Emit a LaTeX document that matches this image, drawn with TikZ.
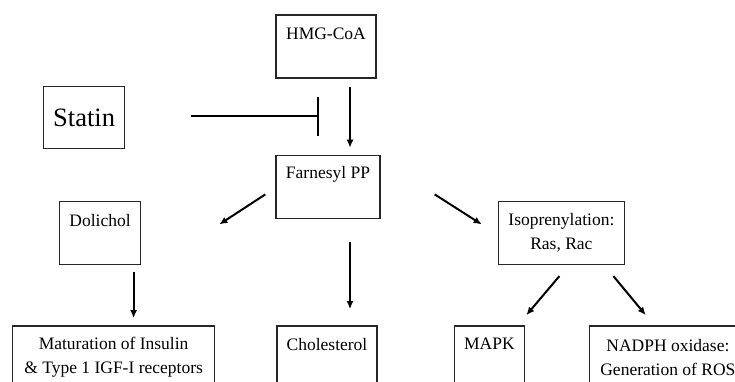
\documentclass[tikz,border=0pt]{standalone}
\usepackage{fontspec}
\setmainfont{Liberation Serif}
\usetikzlibrary{positioning,arrows.meta}

\begin{document}
\begin{tikzpicture}[x=1pt,y=1pt]
\tikzstyle{box}=[rectangle, draw=black!85, line width=1.4pt, inner sep=0pt, minimum height=63pt, align=center, font=\fontsize{17.5}{24}\selectfont]
\tikzstyle{connect}=[-{Latex[length=8pt,width=7pt]}, line width=2pt]
\tikzstyle{inhibit}=[-{Bar[width=39pt,line width=2pt]}, line width=2pt]
  \useasboundingbox (0,0) rectangle (735,-381);
  \node[box, minimum width=100pt] (hmg) at (326,-46.5) {HMG-CoA\\[-6pt] \strut};
  \node[box, minimum width=81pt, minimum height=62pt, font=\fontsize{26.5}{30}\selectfont] (statin) [below left=7pt and 150pt of hmg] {Statin};
  \node[box, minimum width=104pt] (farnesyl) [below=76pt of hmg, xshift=2pt] {Farnesyl PP\\[-3pt] \strut};
  \node[box, minimum width=81pt] (dolichol) [left=134pt of farnesyl, yshift=-46pt] {Dolichol\\[-6pt] \strut};
  \node[box, minimum width=126pt] (isopren) [right=117pt of farnesyl, yshift=-46pt] {Isoprenylation:\\Ras, Rac};
  \node[box, minimum width=100pt] (chol) [below=106pt of farnesyl, xshift=-1pt] {Cholesterol\\[-5pt] \strut};
  \node[box, minimum width=202pt] (matur) [below=60pt of dolichol, xshift=13.5pt] {Maturation of Insulin\\\& Type 1 IGF-I receptors};
  \node[box, minimum width=70pt] (mapk) [below=60pt of isopren, xshift=-72pt] {MAPK\\[-5pt] \strut};
  \node[box, minimum width=157pt] (nadph) [below=60pt of isopren, xshift=106.5pt] {NADPH oxidase:\\Generation of ROS};
  \coordinate (inhib) at ([xshift=194pt,yshift=1pt]statin.east);
  \path ([xshift=66pt,yshift=1pt]statin.east) edge [inhibit] (inhib)
        ([xshift=24pt,yshift=-8pt]hmg.south) edge [connect] ([xshift=22pt,yshift=7pt]farnesyl.north)
        ([xshift=-10pt,yshift=-7.5pt]farnesyl.west) edge [connect] ([xshift=78pt,yshift=8.5pt]dolichol.east)
        ([xshift=54pt,yshift=-7.5pt]farnesyl.east) edge [connect] ([xshift=-16pt,yshift=8.5pt]isopren.west)
        ([xshift=22pt,yshift=-23pt]farnesyl.south) edge [connect] ([xshift=23pt,yshift=16pt]chol.north)
        ([xshift=33.5pt,yshift=-7pt]dolichol.south) edge [connect] ([xshift=20pt,yshift=7pt]matur.north)
        ([xshift=-2pt,yshift=-11pt]isopren.south) edge [connect] ([xshift=37pt,yshift=10pt]mapk.north)
        ([xshift=52pt,yshift=-11pt]isopren.south) edge [connect] ([xshift=57pt,yshift=10pt]nadph.north west);
\end{tikzpicture}
\end{document}
